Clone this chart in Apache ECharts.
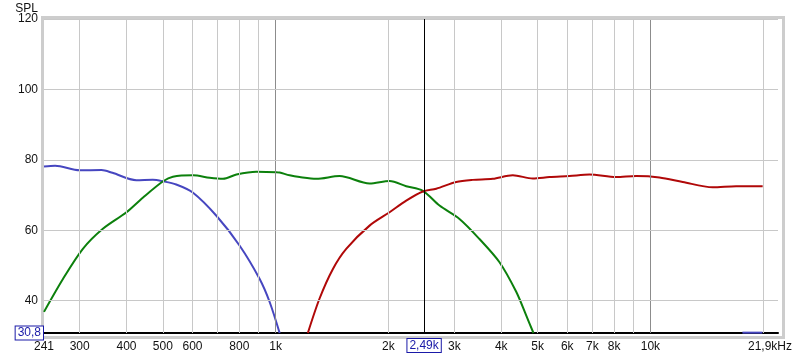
<!DOCTYPE html>
<html>
<head>
<meta charset="utf-8">
<script src="https://cdn.jsdelivr.net/npm/echarts@6/dist/echarts.min.js"></script>
<style>html,body{margin:0;padding:0;background:#fff}#c{width:800px;height:358px}</style>
</head>
<body>
<div id="c"></div>
<script>
// ---- data ----
const freqBlue = [241, 258, 300, 343, 367, 425, 470, 500, 543, 601, 695, 802, 906, 964, 1025];
const splBlue  = [78.1, 78.3, 77.0, 77.1, 76.3, 74.2, 74.3, 73.9, 73.0, 70.7, 64.1, 55.6, 46.2, 39.6, 30.8];
const freqBlueTail = [17600, 19900];
const splBlueTail  = [30.9, 30.9];
const freqGreen = [241, 271, 306, 346, 400, 443, 501, 532, 602, 667, 724, 786, 888, 1004, 1025, 1090, 1159, 1284, 1481, 1781, 2014, 2231, 2471, 2737, 3095, 3499, 3957, 4385, 4662, 4875];
const splGreen  = [36.8, 46.2, 54.7, 60.4, 65.1, 69.3, 73.9, 75.2, 75.6, 74.9, 74.6, 75.8, 76.6, 76.5, 76.4, 75.6, 75.1, 74.6, 75.4, 73.3, 74.0, 72.5, 71.2, 67.0, 63.2, 57.5, 50.9, 42.5, 35.8, 30.8];
const freqRed = [1219, 1310, 1422, 1543, 1781, 2014, 2231, 2471, 2683, 3033, 3358, 3797, 4294, 4855, 5379, 6081, 6877, 8098, 9160, 10570, 12200, 14660, 16930, 19930];
const splRed  = [30.8, 40.6, 49.0, 54.7, 61.3, 65.1, 68.4, 71.0, 71.8, 73.7, 74.3, 74.6, 75.6, 74.7, 75.1, 75.4, 75.8, 75.1, 75.4, 75.0, 73.7, 72.2, 72.5, 72.5];

const minorGridFreqs = [300, 400, 500, 600, 700, 800, 900, 2000, 3000, 4000, 5000, 6000, 7000, 8000, 9000, 20000];
const majorGridFreqs = [1000, 10000];
const xTickValues = [241, 300, 400, 500, 600, 800, 1000, 2000, 3000, 4000, 5000, 6000, 7000, 8000, 10000, 21900];
const xTickLabels = ['241', '300', '400', '500', '600', '800', '1k', '2k', '3k', '4k', '5k', '6k', '7k', '8k', '10k', '21,9kHz'];
const yTickValues = [40, 60, 80, 100, 120];
const yTickLabels = ['40', '60', '80', '100', '120'];
const yMin = 30.8, yMax = 120, xMin = 241, xMax = 21900;
const cursorFreq = 2490, cursorLabel = '2,49k', yMinLabel = '30,8';

const FONT = '"Liberation Sans", Arial, sans-serif';
const zip = (a, b) => a.map((v, i) => [v, b[i]]);
const HIDDEN = {color: 'rgba(0,0,0,0)', width: 1, type: 'solid'};

const markData = [];
minorGridFreqs.forEach(f => markData.push({xAxis: f, lineStyle: {color: '#c8c8c8', width: 1, type: 'solid'}, label: {show: false}}));
majorGridFreqs.forEach(f => markData.push({xAxis: f, lineStyle: {color: '#8c8c8c', width: 1, type: 'solid'}, label: {show: false}}));
yTickValues.forEach((v, i) => markData.push({yAxis: v, lineStyle: {color: '#c8c8c8', width: 1, type: 'solid'},
  label: {show: true, position: 'start', formatter: yTickLabels[i], distance: 6, color: '#111', fontSize: 12, fontFamily: FONT}}));
xTickValues.forEach((v, i) => markData.push({xAxis: v, lineStyle: HIDDEN,
  label: {show: true, position: 'start', formatter: xTickLabels[i], distance: 8, color: '#111', fontSize: 12, fontFamily: FONT,
    offset: i === xTickValues.length - 1 ? [-8, 0] : [0, 0]}}));

const chart = echarts.init(document.getElementById('c'), null, {renderer: 'canvas'});
chart.setOption({
  animation: false,
  backgroundColor: '#ffffff',
  grid: {left: 44, right: 22, top: 19, bottom: 25, show: false},
  graphic: [{
    type: 'rect', left: 40, top: 15, z: 0, silent: true,
    shape: {width: 741, height: 320},
    style: {fill: 'none', stroke: '#cdcdcd', lineWidth: 3}
  }],
  xAxis: {
    type: 'log', logBase: 10, min: xMin, max: xMax,
    axisLabel: {show: false}, axisTick: {show: false}, splitLine: {show: false},
    axisLine: {show: true, lineStyle: {color: '#000', width: 2}}
  },
  yAxis: {
    type: 'value', min: yMin, max: yMax,
    name: 'SPL', nameLocation: 'end', nameGap: 4,
    nameTextStyle: {color: '#111', fontSize: 12, fontFamily: FONT, align: 'right', padding: [0, 6, 0, 0]},
    axisLabel: {show: false}, axisTick: {show: false}, splitLine: {show: false}, axisLine: {show: false}
  },
  series: [
    {
      type: 'line', name: 'grid', data: [], z: 1, silent: true,
      markLine: {silent: true, symbol: 'none', animation: false, data: markData}
    },
    {type: 'line', name: 'woofer', data: zip(freqBlue, splBlue), z: 3, symbol: 'none', smooth: 0.3,
      lineStyle: {color: '#4646c0', width: 2}},
    {type: 'line', name: 'wooferTail', data: zip(freqBlueTail, splBlueTail), z: 3, symbol: 'none',
      lineStyle: {color: '#4646c0', width: 2}},
    {type: 'line', name: 'mid', data: zip(freqGreen, splGreen), z: 3, symbol: 'none', smooth: 0.3,
      lineStyle: {color: '#0c800c', width: 2}},
    {type: 'line', name: 'tweeter', data: zip(freqRed, splRed), z: 3, symbol: 'none', smooth: 0.3,
      lineStyle: {color: '#b00808', width: 2}},
    {
      type: 'line', name: 'cursor', data: [], z: 4, silent: true,
      markLine: {silent: true, symbol: 'none', animation: false, data: [
        {xAxis: cursorFreq, lineStyle: {color: '#000', width: 1, type: 'solid'},
          label: {show: true, position: 'start', formatter: cursorLabel, distance: 6, color: '#1a1aa8', fontSize: 12, fontFamily: FONT,
            backgroundColor: '#fff', borderColor: '#1a1aa8', borderWidth: 1, padding: [1, 2, 0, 2]}},
        {yAxis: yMin, lineStyle: HIDDEN,
          label: {show: true, position: 'start', formatter: yMinLabel, distance: 1, color: '#1a1aa8', fontSize: 12, fontFamily: FONT,
            backgroundColor: '#fff', borderColor: '#1a1aa8', borderWidth: 1, padding: [1, 2, 0, 2]}}
      ]}
    }
  ]
});
</script>
</body>
</html>
